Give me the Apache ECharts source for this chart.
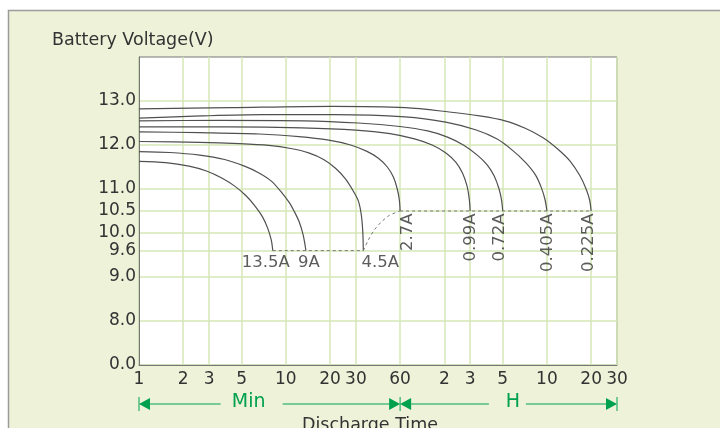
<!DOCTYPE html>
<html><head><meta charset="utf-8">
<script src="https://cdn.jsdelivr.net/npm/echarts@6/dist/echarts.min.js"></script>
<style>html,body{margin:0;padding:0;background:#fff}#c{width:720px;height:428px}</style>
</head><body><div id="c"></div>
<script>
// ---- axis ticks ----
const xTickValues = [1, 2, 3, 5, 10, 20, 30, 60, 120, 180, 300, 600, 1200, 1800]; // minutes
const xTickLabels = ['1', '2', '3', '5', '10', '20', '30', '60', '2', '3', '5', '10', '20', '30'];
const yTickValues = [7, 8, 9, 9.6, 10, 10.5, 11, 12, 13]; // 7 stands for the broken-axis "0.0"
const yTickLabels = ['0.0', '8.0', '9.0', '9.6', '10.0', '10.5', '11.0', '12.0', '13.0'];

// ---- discharge curves (time in minutes, voltage in V) ----
const seriesNames = ['13.5A', '9A', '4.5A', '2.7A', '0.99A', '0.72A', '0.405A', '0.225A'];
const t_13_5A = [1, 1.52, 2.19, 2.88, 3.66, 4.51, 5.38, 6.21, 6.95, 7.52, 7.96, 8.15];
const v_13_5A = [11.63, 11.60, 11.52, 11.41, 11.25, 11.06, 10.84, 10.60, 10.36, 10.11, 9.84, 9.6];
const t_9A = [1, 1.62, 2.59, 3.83, 5.23, 6.61, 7.97, 9.32, 10.56, 11.41, 12.34, 13.13, 13.7];
const v_9A = [11.85, 11.83, 11.77, 11.67, 11.52, 11.36, 11.18, 10.93, 10.69, 10.49, 10.25, 9.95, 9.6];
const t_4_5A = [1, 2.58, 4.82, 7.68, 10.82, 14.31, 18.08, 21.79, 25.46, 28.84, 31.17, 32.66, 33.43, 33.7];
const v_4_5A = [12.08, 12.06, 12.03, 11.99, 11.92, 11.82, 11.67, 11.47, 11.23, 10.95, 10.73, 10.41, 10.02, 9.6];
const t_2_7A = [1, 2.59, 6.59, 12.28, 19.6, 27.6, 35.4, 42.7, 49.1, 54.0, 57.4, 59.3, 60];
const v_2_7A = [12.30, 12.28, 12.25, 12.19, 12.11, 12.0, 11.86, 11.70, 11.5, 11.27, 11.0, 10.75, 10.5];
const t_0_99A = [1, 4.05, 12.84, 29.9, 51.2, 75.2, 99.2, 123.1, 143.6, 159.8, 171.3, 177.5, 180];
const v_0_99A = [12.41, 12.41, 12.39, 12.34, 12.26, 12.14, 12.0, 11.82, 11.61, 11.36, 11.07, 10.77, 10.5];
const t_0_72A = [1, 3.53, 13.22, 31.1, 59.8, 92.4, 126.2, 161.8, 201.2, 235, 262, 283.2, 294.4, 300];
const v_0_72A = [12.55, 12.56, 12.55, 12.5, 12.42, 12.32, 12.18, 12.0, 11.77, 11.55, 11.30, 11.0, 10.75, 10.5];
const t_0_405A = [1, 2.65, 6.91, 21.2, 64.8, 122.7, 198.2, 272.8, 346.7, 426.9, 500.9, 551, 583, 600];
const v_0_405A = [12.61, 12.66, 12.69, 12.69, 12.64, 12.52, 12.34, 12.14, 11.89, 11.61, 11.32, 11.02, 10.75, 10.5];
const t_0_225A = [1, 4.25, 20.8, 65.4, 129.6, 208.8, 310.8, 427, 568, 710, 859.5, 1007, 1108.8, 1171.5, 1200];
const v_0_225A = [12.82, 12.85, 12.88, 12.85, 12.75, 12.66, 12.55, 12.38, 12.16, 11.91, 11.64, 11.30, 11.0, 10.75, 10.5];

// ---- cut-off voltage (dashed) ----
const cut96_t = [8.15, 33.7];
const cut96_v = [9.6, 9.6];
const cutRise_t = [33.7, 36.45, 40.04, 44.69, 50.65, 60];
const cutRise_v = [9.6, 9.84, 10.07, 10.25, 10.40, 10.5];
const cut105_t = [60, 1200];
const cut105_v = [10.5, 10.5];

const curves = [
  [t_13_5A, v_13_5A], [t_9A, v_9A], [t_4_5A, v_4_5A], [t_2_7A, v_2_7A],
  [t_0_99A, v_0_99A], [t_0_72A, v_0_72A], [t_0_405A, v_0_405A], [t_0_225A, v_0_225A]
];

const FONT = 'DejaVu Sans';
const GREEN = '#00A14E';
const zip = (t, v) => t.map((x, i) => [x, v[i]]);
const findLabel = (vals, labs, v) => {
  for (let i = 0; i < vals.length; i++) if (Math.abs(vals[i] - v) < 1e-6 * Math.max(1, vals[i])) return labs[i];
  return '';
};

const lineSeries = curves.map((c, i) => ({
  type: 'line', name: seriesNames[i], data: zip(c[0], c[1]),
  symbol: 'none', showSymbol: false, smooth: 0.3, silent: true, z: 3,
  lineStyle: { color: '#505050', width: 1.2 }
}));
const dashStyle = { color: '#777', width: 1, type: [3, 3] };
const dashSeries = [
  { type: 'line', data: zip(cut96_t, cut96_v), symbol: 'none', silent: true, lineStyle: dashStyle, z: 3 },
  { type: 'line', data: zip(cutRise_t, cutRise_v), symbol: 'none', smooth: 0.3, silent: true, lineStyle: dashStyle, z: 3 },
  { type: 'line', data: zip(cut105_t, cut105_v), symbol: 'none', silent: true, lineStyle: dashStyle, z: 3 }
];

// rotated labels: offset is in the text's own (rotated) frame: [up, right]
const vLab = dx => ({ position: 'bottom', distance: 2, rotate: 90, align: 'right', verticalAlign: 'middle', offset: [0, dx] });
const labelStyles = [
  { position: 'bottom', distance: 1, offset: [-7, 2] },
  { position: 'bottom', distance: 1, offset: [3, 2] },
  { position: 'bottom', distance: 1, offset: [17, 2] },
  vLab(8), vLab(1), vLab(-3), vLab(1), vLab(-2)
];
const labelSeries = {
  type: 'scatter', symbolSize: 1, silent: true, z: 5,
  itemStyle: { color: 'rgba(0,0,0,0)' },
  label: { show: true, formatter: '{b}', fontSize: 16.5, color: '#333', fontFamily: FONT },
  data: curves.map((c, i) => ({
    name: seriesNames[i],
    value: [c[0][c[0].length - 1], c[1][c[1].length - 1]],
    label: labelStyles[i]
  }))
};

const chart = echarts.init(document.getElementById('c'));
const option = {
  animation: false,
  backgroundColor: '#fff',
  title: {
    text: 'Battery Voltage(V)', left: 52, top: 31, padding: 0,
    textStyle: { fontFamily: FONT, fontSize: 17.5, fontWeight: 'normal', color: '#333' }
  },
  grid: {
    left: 139, top: 57, right: 103, bottom: 63,
    outerBoundsMode: 'none', containLabel: false,
    show: true, backgroundColor: '#fff', borderColor: '#777', borderWidth: 1
  },
  xAxis: {
    type: 'log', logBase: 10, min: 1, max: 1800,
    name: 'Discharge Time', nameLocation: 'middle', nameGap: 51,
    nameTextStyle: { fontFamily: FONT, fontSize: 17.5, color: '#333', padding: [0, 16, 0, 0] },
    axisLine: { show: true, lineStyle: { color: '#777', width: 1 } },
    axisTick: { show: false, customValues: xTickValues },
    axisLabel: {
      customValues: xTickValues, margin: 6, fontSize: 17, color: '#333', fontFamily: FONT,
      formatter: v => findLabel(xTickValues, xTickLabels, v)
    },
    splitLine: { show: true, lineStyle: { color: '#D4E7B7', width: 1.5 } },
    minorSplitLine: { show: false }
  },
  yAxis: {
    type: 'value', min: 7, max: 14,
    axisLine: { show: true, lineStyle: { color: '#777', width: 1 } },
    axisTick: { show: false, customValues: yTickValues },
    axisLabel: {
      customValues: yTickValues, margin: 3, fontSize: 17, color: '#333', fontFamily: FONT,
      formatter: v => findLabel(yTickValues, yTickLabels, v)
    },
    splitLine: { show: true, lineStyle: { color: '#D4E7B7', width: 1.5 } }
  },
  series: [...lineSeries, ...dashSeries, labelSeries]
};
chart.setOption(option);

// decorations: panel and the Min / H arrows, anchored to the time axis
const px = v => chart.convertToPixel({ xAxisIndex: 0 }, v);
const xa = px(xTickValues[0]), xb = px(60), xc = px(xTickValues[xTickValues.length - 1]);
const ay = 404, ah = 6, aw = 11;
const gLine = (x1, x2, id) => ({ type: 'line', id, silent: true, shape: { x1, y1: ay, x2, y2: ay }, style: { stroke: GREEN, lineWidth: 1.2 } });
const gTri = (tip, dir, id) => ({ type: 'polygon', id, silent: true, shape: { points: [[tip, ay], [tip - dir * aw, ay - ah], [tip - dir * aw, ay + ah]] }, style: { fill: GREEN } });
const gTick = (x, id) => ({ type: 'line', id, silent: true, shape: { x1: x, y1: ay - 7, x2: x, y2: ay + 7 }, style: { stroke: GREEN, lineWidth: 1 } });
const minC = xa + 0.42 * (xb - xa), hC = xb + 0.52 * (xc - xb);
chart.setOption({
  graphic: [
    { type: 'rect', id: 'panel', z: -10, silent: true, shape: { x: 8.5, y: 10.5, width: 720, height: 430 }, style: { fill: '#EDF2D9', stroke: '#9C9C9C', lineWidth: 1.5 } },
    gTick(xa, 't1'), gTick(xb, 't2'), gTick(xc, 't3'),
    gTri(xa, -1, 'a1'), gTri(xb, 1, 'a2'), gTri(xb, -1, 'a3'), gTri(xc, 1, 'a4'),
    gLine(xa + aw, minC - 28, 'l1'), gLine(minC + 34, xb - aw, 'l2'),
    gLine(xb + aw, hC - 24, 'l3'), gLine(hC + 13, xc - aw, 'l4'),
    { type: 'text', id: 'tmin', silent: true, x: minC, y: 402, style: { text: 'Min', fill: GREEN, font: '19px "DejaVu Sans"', align: 'center', verticalAlign: 'middle' } },
    { type: 'text', id: 'th', silent: true, x: hC, y: 402, style: { text: 'H', fill: GREEN, font: '19px "DejaVu Sans"', align: 'center', verticalAlign: 'middle' } }
  ]
});
</script>
</body></html>
